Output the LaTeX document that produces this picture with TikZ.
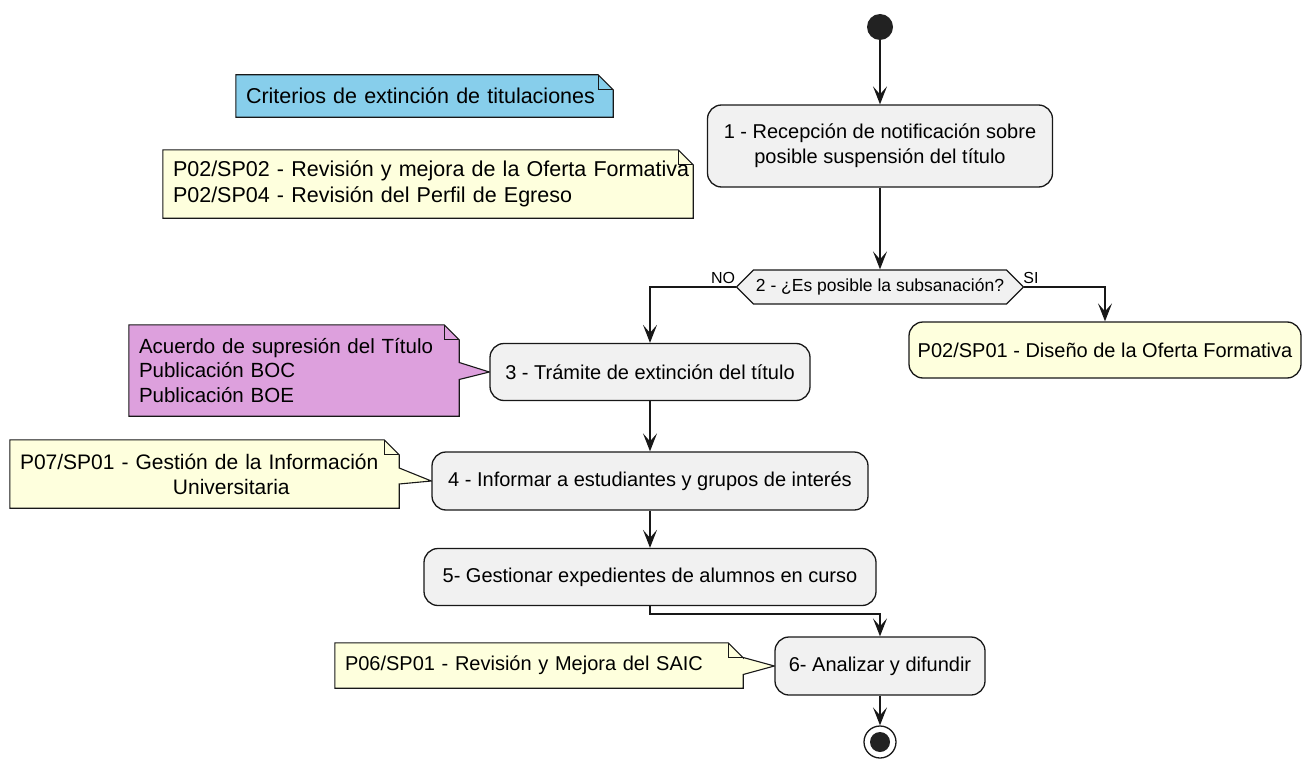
\documentclass[tikz,border=0pt]{standalone}
\usepackage{fontspec}
\setmainfont{Liberation Sans}
\usepackage{xcolor}
\usepackage{tikz}
\usetikzlibrary{shapes.symbols, arrows.meta, calc, backgrounds}
\definecolor{actgray}{HTML}{F1F1F1}
\definecolor{edgedark}{HTML}{181818}
\definecolor{noteyellow}{HTML}{FEFFDD}
\definecolor{noteblue}{HTML}{87CEEB}
\definecolor{noteplum}{HTML}{DDA0DD}
\definecolor{startdark}{HTML}{222222}

\begin{document}
\begin{tikzpicture}[x=1pt, y=-1pt,
  activity/.style={draw=edgedark, fill=actgray, line width=1.3pt, rounded corners=14pt, align=center, inner sep=0pt, font=\fontsize{20}{25}\selectfont},
  notetext/.style={align=left, inner xsep=10pt, inner ysep=0pt, font=\fontsize{20}{25}\selectfont},
  noteline/.style={draw=edgedark, line width=1.1pt},
  flow/.style={draw=edgedark, line width=1.4pt, -{Stealth[length=18pt, width=14pt, inset=8pt]}},
  guard/.style={inner sep=0pt, font=\fontsize{16}{16}\selectfont}]
  \useasboundingbox (0,0) rectangle (1302,760);

  % Start and stop points
  \node[circle, fill=startdark, minimum size=26pt, inner sep=0pt] (start) at (880,27) {};
  \node[circle, draw=edgedark, fill=white, line width=1.3pt, minimum size=32pt, inner sep=0pt] (stop) at (880,742) {};
  \node[circle, fill=startdark, minimum size=20pt, inner sep=0pt] (stopdot) at (stop.center) {};

  % Activities - main flow
  \node[activity, minimum width=345pt, minimum height=82pt] (act1) at (880,146) {1 - Recepción de notificación sobre\\ posible suspensión del título};
  \node[draw=edgedark, fill=actgray, line width=1.3pt, signal, signal to=west and east, signal pointer angle=90, minimum width=287pt, minimum height=34pt, inner sep=0pt, font=\fontsize{17.5}{17.5}\selectfont] (dec2) at (880,287) {2 - ¿Es posible la subsanación?};
  \node[activity, fill=noteyellow, minimum width=392pt, minimum height=56pt] (sp01) at (1105,350) {P02/SP01 - Diseño de la Oferta Formativa};
  \node[activity, minimum width=320pt, minimum height=57pt] (act3) at (650,372) {3 - Trámite de extinción del título};
  \node[activity, minimum width=436pt, minimum height=58pt] (act4) at (650,481) {4 - Informar a estudiantes y grupos de interés};
  \node[activity, minimum width=452pt, minimum height=57pt] (act5) at (650,577) {5- Gestionar expedientes de alumnos en curso};
  \node[activity, minimum width=210pt, minimum height=58pt] (act6) at (880,666) {6- Analizar y difundir};

  % Branch labels
  \node[guard] (nolbl) at (723,278) {NO};
  \node[guard] (silbl) at (1031,278) {SI};

  % Notes - text only, outlines go on the background layer
  \node[notetext, font=\fontsize{21.5}{25}\selectfont, text width=357pt, minimum height=42pt] (crit) at (424.5,96) {Criterios de extinción de titulaciones};
  \node[notetext, font=\fontsize{21.5}{26}\selectfont, text width=510pt, minimum height=68pt] (ofer) at (428,184) {\mbox{P02/SP02 - Revisión y mejora de la Oferta Formativa}\\\mbox{P02/SP04 - Revisión del Perfil de Egreso}};
  \node[notetext, font=\fontsize{20.5}{24.5}\selectfont, text width=310pt, minimum height=91pt] (acu) at (294,370.5) {Acuerdo de supresión del Título\\Publicación BOC\\Publicación BOE};
  \node[notetext, font=\fontsize{21}{25}\selectfont, text width=369pt, minimum height=68pt] (p07) at (204.5,474) {P07/SP01 - Gestión de la Información\\\hspace*{153pt}Universitaria};
  \node[notetext, text width=388pt, minimum height=45pt] (p06) at (539,665.5) {P06/SP01 - Revisión y Mejora del SAIC};

  \begin{scope}[on background layer]
    % Plain notes with folded corner
    \filldraw[noteline, fill=noteblue] (crit.north west) -- ($(crit.north east)+(-15,0)$) -- ($(crit.north east)+(0,15)$) -- (crit.south east) -- (crit.south west) -- cycle;
    \draw[noteline] ($(crit.north east)+(-15,0)$) |- ($(crit.north east)+(0,15)$);
    \filldraw[noteline, fill=noteyellow] (ofer.north west) -- ($(ofer.north east)+(-15,0)$) -- ($(ofer.north east)+(0,15)$) -- (ofer.south east) -- (ofer.south west) -- cycle;
    \draw[noteline] ($(ofer.north east)+(-15,0)$) |- ($(ofer.north east)+(0,15)$);
    % Notes pointing at an activity
    \filldraw[noteline, fill=noteplum] (acu.north west) -- ($(acu.north east)+(-15,0)$) -- ($(acu.north east)+(0,15)$) -- ($(acu.east)+(0,-8)$) -- (act3.west) -- ($(acu.east)+(0,9)$) -- (acu.south east) -- (acu.south west) -- cycle;
    \draw[noteline] ($(acu.north east)+(-15,0)$) |- ($(acu.north east)+(0,15)$);
    \filldraw[noteline, fill=noteyellow] (p07.north west) -- ($(p07.north east)+(-15,0)$) -- ($(p07.north east)+(0,15)$) -- ($(p07.east)+(0,-6)$) -- (act4.west) -- ($(p07.east)+(0,10)$) -- (p07.south east) -- (p07.south west) -- cycle;
    \draw[noteline] ($(p07.north east)+(-15,0)$) |- ($(p07.north east)+(0,15)$);
    \filldraw[noteline, fill=noteyellow] (p06.north west) -- ($(p06.north east)+(-15,0)$) -- ($(p06.north east)+(0,15)$) -- ($(p06.east)+(0,-8)$) -- (act6.west) -- ($(p06.east)+(0,9)$) -- (p06.south east) -- (p06.south west) -- cycle;
    \draw[noteline] ($(p06.north east)+(-15,0)$) |- ($(p06.north east)+(0,15)$);
  \end{scope}

  % Connectors
  \draw[flow] (start) -- (act1.north);
  \draw[flow] (act1.south) -- (dec2.north);
  \draw[flow] (dec2.west) -| (act3.north);
  \draw[flow] (dec2.east) -| (sp01.north);
  \draw[flow] (act3.south) -- (act4.north);
  \draw[flow] (act4.south) -- (act5.north);
  \draw[flow] (act5.south) -- ++(0,8) -| (act6.north);
  \draw[flow] (act6.south) -- (stop.north);
\end{tikzpicture}
\end{document}
